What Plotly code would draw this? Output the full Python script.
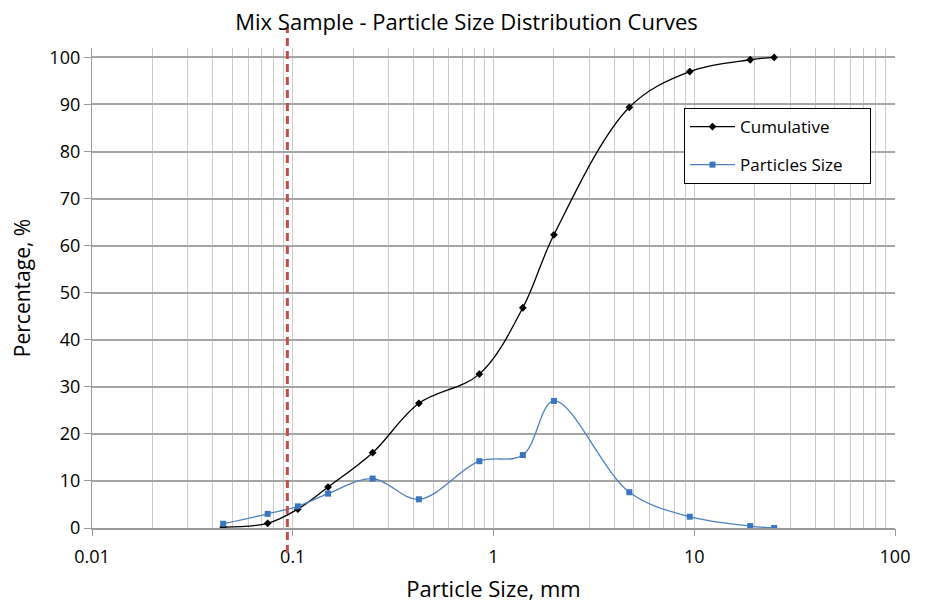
import plotly.graph_objects as go

sizes_mm = [0.045, 0.075, 0.106, 0.15, 0.25, 0.425, 0.85, 1.4, 2.0, 4.75, 9.5, 19, 25]
cumulative = [0.2, 1.0, 4.0, 8.7, 16.0, 26.5, 32.7, 46.8, 62.3, 89.4, 97.0, 99.5, 100.0]
particles = [0.9, 3.0, 4.6, 7.3, 10.5, 6.1, 14.2, 15.5, 27.0, 7.6, 2.4, 0.4, 0.0]
cutoff_mm = 0.094

major_ticks = [0.01, 0.1, 1, 10, 100]
major_labels = ["0.01", "0.1", "1", "10", "100"]
minor_ticks = [m * d for d in [0.01, 0.1, 1, 10] for m in range(2, 10)]
y_ticks = list(range(0, 101, 10))

all_ticks = sorted(major_ticks + minor_ticks)
all_labels = [major_labels[major_ticks.index(v)] if v in major_ticks else "" for v in all_ticks]

FONT = "Open Sans"
W, H = 927, 596
L, R, T, B = 84, 40, 40, 76
PAD = "\u00a0" * 5

fig = go.Figure()
fig.add_trace(go.Scatter(
    x=sizes_mm, y=cumulative, name="Cumulative" + PAD, mode="lines+markers",
    legendgroup="a",
    line=dict(color="black", width=1.3, shape="spline", smoothing=1.0),
    marker=dict(symbol="diamond", size=6, color="black"),
))
fig.add_trace(go.Scatter(
    x=sizes_mm, y=particles, name="Particles Size" + PAD, mode="lines+markers",
    legendgroup="b",
    line=dict(color="#4f81bd", width=1.3, shape="spline", smoothing=1.0),
    marker=dict(symbol="square", size=6, color="#3a75c0"),
))
# empty trace on an overlay axis that carries the major tick marks only
fig.add_trace(go.Scatter(x=[0.01, 100], y=[None, None], xaxis="x2", showlegend=False,
                         hoverinfo="skip"))

fig.add_shape(type="line", xref="x", yref="paper", x0=cutoff_mm, x1=cutoff_mm,
              y0=-0.052, y1=1.044,
              line=dict(color="#c0504d", width=3, dash="8px,5px"))

fig.update_layout(
    width=W, height=H,
    margin=dict(l=L, r=R, t=T, b=B, autoexpand=False),
    paper_bgcolor="white", plot_bgcolor="white",
    font=dict(family=FONT, color="black"),
    title=dict(text="Mix Sample - Particle Size Distribution Curves",
               xref="container", x=458.5 / W, xanchor="center",
               yref="container", y=1 - 14 / H, yanchor="middle",
               font=dict(size=22, family=FONT, color="black")),
    showlegend=True,
    legend=dict(x=(676 - L) / (W - L - R), y=(H - B - 100) / (H - T - B),
                xanchor="left", yanchor="top",
                bgcolor="white", bordercolor="black", borderwidth=1,
                font=dict(size=17, family=FONT), traceorder="grouped",
                tracegroupgap=13, itemwidth=45),
    xaxis=dict(
        type="log", range=[-2, 2], automargin=False,
        tickmode="array", tickvals=all_ticks, ticktext=all_labels,
        tickfont=dict(size=18), ticks="", ticklabelstandoff=12,
        showgrid=True, gridcolor="#cbcbcb", gridwidth=1.3,
        showline=True, linecolor="#999", linewidth=1.5, zeroline=False,
        title=dict(text="Particle Size, mm", font=dict(size=22), standoff=14),
    ),
    xaxis2=dict(type="log", range=[-2, 2], overlaying="x", side="bottom",
                automargin=False,
                tickmode="array", tickvals=major_ticks, showticklabels=False,
                ticks="outside", ticklen=7, tickcolor="#999", tickwidth=1.2,
                showgrid=False, zeroline=False, showline=False),
    yaxis=dict(
        range=[0, 102], tickmode="array", tickvals=y_ticks, automargin=False,
        tickfont=dict(size=18), ticks="outside", ticklen=7, tickcolor="#999",
        tickwidth=1.2,
        showgrid=True, gridcolor="#a6a6a6", gridwidth=1.5,
        showline=True, linecolor="#999", linewidth=1.3, zeroline=False,
        title=dict(text="Percentage, %", font=dict(size=21), standoff=14),
    ),
)

fig.write_html("out.html")
